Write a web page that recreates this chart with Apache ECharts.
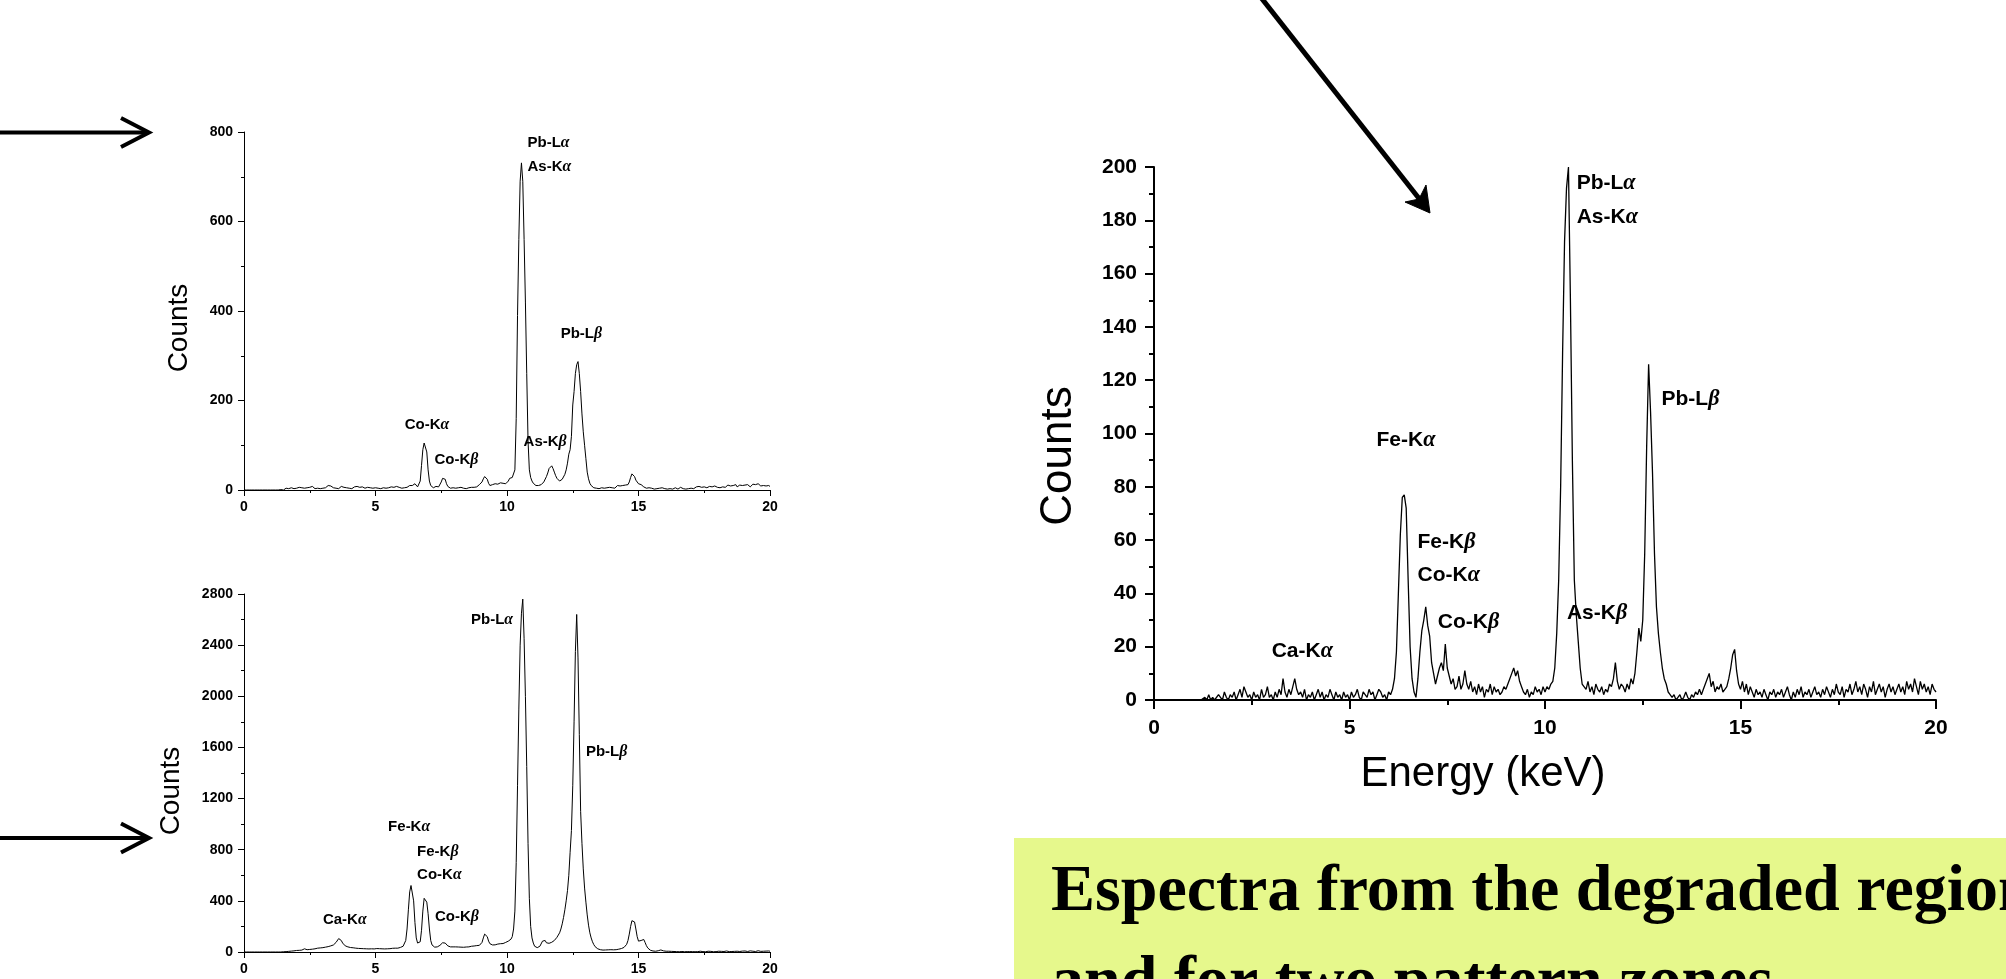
<!DOCTYPE html>
<html>
<head>
<meta charset="utf-8">
<script src="https://cdn.jsdelivr.net/npm/echarts/dist/echarts.min.js"></script>
<style>
html,body{margin:0;padding:0;background:#fff;}
#chart{width:2006px;height:979px;}
</style>
</head>
<body>
<div id="chart"></div>
<script>
// ---- DATA (counts per 0.05 keV channel, 0.00 … 20.00 keV) ----
const energyStep = 0.05;

// degraded region (right panel)
const countsDegraded = [
 0,0,0,0,0,0,0,0,0,0,0,0,0,0,0,0,0,0,0,0,
 0,0,0,0,0,0,1,0,2,0,1,0,0,2,1,0,3,1,0,2,
 1,3,0,2,4,1,5,3,1,2,0,3,1,2,0,4,1,2,5,1,
 2,0,3,1,4,2,8,3,1,4,2,5,8,4,2,3,1,4,0,2,
 1,3,0,2,4,1,3,0,2,1,4,2,0,3,1,2,0,3,1,2,
 0,3,1,2,4,1,0,3,2,1,4,2,3,0,2,4,3,1,2,0,
 3,2,4,8,18,40,62,76,77,72,45,20,8,3,1,8,18,26,30,35,
 28,24,14,10,6,9,12,14,11,21,12,9,6,8,4,5,9,4,6,11,
 6,4,7,3,5,2,6,3,5,1,4,3,6,2,5,3,4,2,3,5,
 4,6,8,10,12,9,11,7,5,3,2,4,1,3,2,5,3,4,2,5,
 3,5,4,6,7,12,25,45,80,130,172,192,200,150,90,45,32,22,12,6,
 6,4,7,3,5,2,6,4,3,5,2,4,3,6,5,8,14,7,4,6,
 5,3,6,4,8,6,10,18,27,22,30,55,95,126,108,85,55,35,25,18,
 12,8,6,3,2,1,2,0,1,2,0,1,3,1,0,2,1,3,2,4,
 2,4,6,8,10,5,7,3,5,4,6,3,4,5,8,12,17,19,11,6,
 4,7,3,6,2,5,3,1,4,2,3,1,4,2,0,3,2,4,1,3,
 2,4,1,3,5,2,0,3,1,4,2,5,1,3,2,4,1,3,5,2,
 3,1,4,2,5,3,1,4,2,6,3,2,5,1,4,3,6,2,4,7,
 3,5,2,6,4,1,5,3,7,2,4,6,3,5,1,4,6,3,5,2,
 4,6,3,5,2,7,4,6,3,8,5,2,7,4,6,3,5,2,6,4,
 3
];

// pattern zone 1 (top-left panel)
const countsZone1 = [
 0,0,0,0,0,0,0,0,0,0,0,0,0,0,0,0,0,0,0,0,
 0,0,0,0,0,0,0,2,1,3,0,2,4,1,3,2,5,1,3,2,
 4,2,6,3,5,8,4,7,5,3,6,4,8,5,3,7,4,6,3,5,
 4,6,5,8,10,13,9,6,5,7,4,6,3,5,8,4,6,3,5,7,
 4,6,3,5,7,4,8,5,6,3,7,5,4,8,6,3,5,7,4,6,
 5,8,4,6,3,7,5,8,4,6,5,3,7,4,6,5,8,4,6,5,
 4,6,5,4,6,8,10,12,10,8,14,10,7,9,20,55,90,105,108,85,
 45,20,10,7,5,6,8,5,7,10,18,26,30,24,14,8,6,4,7,5,
 6,4,7,5,3,6,8,4,5,3,7,5,4,6,8,6,9,7,10,12,
 14,18,25,30,28,24,15,10,8,12,9,14,10,13,11,16,12,15,18,14,
 16,20,26,24,28,30,45,160,390,560,690,731,690,560,420,260,110,45,28,20,
 15,12,10,12,10,14,12,15,18,22,30,38,48,52,54,48,40,32,26,22,
 20,22,24,28,35,45,60,80,90,120,190,220,260,280,287,260,220,170,130,100,
 70,40,25,15,10,8,5,6,4,5,3,4,5,3,4,2,5,3,6,4,
 5,7,4,8,10,6,9,7,10,8,11,9,12,18,28,36,40,30,22,18,
 14,16,12,10,7,5,4,3,5,2,4,3,2,4,3,2,4,3,5,2,
 3,4,2,5,3,4,2,3,5,4,2,3,6,4,3,5,2,4,3,5,
 4,6,3,5,7,4,8,5,6,4,7,9,5,6,8,5,7,6,9,7,
 6,8,5,9,7,10,6,8,11,7,9,6,10,8,12,7,9,11,8,10,
 9,11,8,12,10,7,11,13,9,12,10,14,11,9,13,10,12,9,11,10,
 8
];

// pattern zone 2 (bottom-left panel)
const countsZone2 = [
 0,0,0,0,0,0,0,0,0,0,0,0,0,0,0,0,0,0,0,0,
 0,0,0,0,0,0,0,0,0,0,2,4,3,6,5,8,7,10,9,12,
 12,14,13,16,15,18,25,20,18,22,20,24,22,26,25,28,30,28,32,35,
 34,36,38,40,42,45,48,50,55,62,75,90,105,108,90,70,55,48,42,40,
 38,35,36,33,34,30,32,28,30,27,29,26,28,25,27,24,26,25,27,24,
 25,27,24,26,23,25,27,24,26,25,28,26,27,29,28,30,32,30,34,36,
 40,45,60,90,180,330,470,520,510,400,230,110,70,60,80,170,320,420,432,390,
 300,180,90,55,40,38,36,40,45,52,62,72,76,70,58,48,42,40,38,40,
 38,40,36,39,42,38,40,37,41,39,43,40,42,45,43,47,45,50,48,52,
 58,75,110,140,145,120,85,65,58,55,58,56,60,62,60,65,68,66,72,75,
 80,85,90,100,120,180,320,700,1300,1900,2400,2650,2760,2450,2000,1450,850,420,200,110,
 70,45,35,34,38,45,60,85,100,90,72,66,68,72,76,82,90,100,115,130,
 150,180,220,270,330,400,480,600,780,950,1300,1800,2350,2640,2300,1700,1100,850,650,500,
 390,290,210,150,110,80,58,42,32,25,20,18,16,15,17,16,15,17,16,18,
 18,17,19,18,20,22,24,27,30,36,45,60,90,140,200,245,258,235,180,120,
 85,80,90,100,98,75,50,32,20,14,10,8,7,6,8,10,14,16,14,9,
 7,6,5,6,4,5,3,4,5,3,4,2,3,4,3,2,4,3,2,3,
 2,3,4,2,5,3,2,6,4,3,5,2,4,6,3,5,4,2,5,3,
 4,6,3,5,7,4,6,8,5,3,6,4,7,5,3,6,8,4,5,7,
 5,8,6,4,7,9,5,6,8,4,7,10,6,5,8,6,9,7,5,8,
 6
];

// axis ranges / ticks
const xTicks = [0, 5, 10, 15, 20];
const yMaxZone1 = 800, yStepZone1 = 200;
const yMaxZone2 = 2800, yStepZone2 = 400;
const yMaxDegraded = 200, yStepDegraded = 20;

// peak labels: [energy keV, counts, text, greek]
const labelsZone1 = [
 [10.78, 775, 'Pb-L', 'α'], [10.78, 722, 'As-K', 'α'], [12.04, 349, 'Pb-L', 'β'],
 [6.11, 145, 'Co-K', 'α'], [7.24, 67, 'Co-K', 'β'], [10.63, 107, 'As-K', 'β']
];
const labelsZone2 = [
 [8.63, 2597, 'Pb-L', 'α'], [13.0, 1564, 'Pb-L', 'β'], [5.48, 978, 'Fe-K', 'α'],
 [6.58, 782, 'Fe-K', 'β'], [6.58, 602, 'Co-K', 'α'], [7.26, 274, 'Co-K', 'β'],
 [3.0, 250, 'Ca-K', 'α']
];
const labelsDegraded = [
 [10.81, 194, 'Pb-L', 'α'], [10.81, 181, 'As-K', 'α'], [12.98, 113, 'Pb-L', 'β'],
 [5.69, 97.4, 'Fe-K', 'α'], [6.74, 59.3, 'Fe-K', 'β'], [6.74, 46.9, 'Co-K', 'α'],
 [7.26, 29.3, 'Co-K', 'β'], [10.56, 32.5, 'As-K', 'β'], [3.01, 18.4, 'Ca-K', 'α']
];

const energies = countsDegraded.map((_, i) => Math.round(i * energyStep * 100) / 100);
const pairs = arr => arr.map((c, i) => [energies[i], c]);

const SANS = '"Liberation Sans", Arial, Helvetica, sans-serif';
const SERIF = '"Liberation Serif", "Times New Roman", serif';

function xAxisFor(gi, fs, lw, tickLen, margin) {
  return {
    type: 'value', gridIndex: gi, min: 0, max: 20, interval: 5,
    axisLine: {show: true, onZero: false, lineStyle: {color: '#000', width: lw}},
    axisTick: {show: true, inside: false, length: tickLen, lineStyle: {color: '#000', width: lw}},
    minorTick: {show: true, splitNumber: 2, length: Math.round(tickLen * 0.55), lineStyle: {color: '#000', width: lw}},
    axisLabel: {show: true, margin: margin, color: '#000', fontFamily: SANS, fontWeight: 'bold', fontSize: fs,
      formatter: v => xTicks.indexOf(v) >= 0 ? String(v) : ''},
    splitLine: {show: false}, minorSplitLine: {show: false}
  };
}
function yAxisFor(gi, max, step, fs, lw, tickLen, margin) {
  return {
    type: 'value', gridIndex: gi, min: 0, max: max, interval: step,
    axisLine: {show: true, onZero: false, lineStyle: {color: '#000', width: lw}},
    axisTick: {show: true, inside: false, length: tickLen, lineStyle: {color: '#000', width: lw}},
    minorTick: {show: true, splitNumber: 2, length: Math.round(tickLen * 0.55), lineStyle: {color: '#000', width: lw}},
    axisLabel: {show: true, margin: margin, color: '#000', fontFamily: SANS, fontWeight: 'bold', fontSize: fs,
      formatter: v => String(v)},
    splitLine: {show: false}, minorSplitLine: {show: false}
  };
}
function markLabels(list, fs) {
  return {
    symbol: 'circle', symbolSize: 0, silent: true, animation: false,
    label: {
      show: true, position: 'right', distance: 0,
      formatter: p => '{t|' + p.data.txt + '}{g|' + p.data.greek + '}',
      rich: {
        t: {fontFamily: SANS, fontWeight: 'bold', fontSize: fs, color: '#000'},
        g: {fontFamily: SERIF, fontStyle: 'italic', fontWeight: 'bold', fontSize: fs * 1.05, color: '#000'}
      }
    },
    data: list.map(a => ({coord: [a[0], a[1]], txt: a[2], greek: a[3]}))
  };
}
function lineSeries(idx, data, lw, labels, fs) {
  return {
    type: 'line', xAxisIndex: idx, yAxisIndex: idx, data: pairs(data),
    showSymbol: false, symbol: 'none', smooth: false, animation: false,
    lineStyle: {color: '#000', width: lw}, z: 3,
    markPoint: markLabels(labels, fs)
  };
}

const chart = echarts.init(document.getElementById('chart'), null, {renderer: 'canvas'});
chart.setOption({
  backgroundColor: '#ffffff',
  animation: false,
  grid: [
    {left: 244, top: 132, width: 526, height: 358, containLabel: false},
    {left: 244, top: 594, width: 526, height: 358, containLabel: false},
    {left: 1154, top: 167, width: 782, height: 533, containLabel: false}
  ],
  xAxis: [
    xAxisFor(0, 14, 1, 6, 10),
    xAxisFor(1, 14, 1, 6, 10),
    xAxisFor(2, 21, 2, 9, 18)
  ],
  yAxis: [
    yAxisFor(0, yMaxZone1, yStepZone1, 14, 1, 6, 11),
    yAxisFor(1, yMaxZone2, yStepZone2, 14, 1, 6, 11),
    yAxisFor(2, yMaxDegraded, yStepDegraded, 21, 2, 9, 17)
  ],
  series: [
    lineSeries(0, countsZone1, 1, labelsZone1, 15),
    lineSeries(1, countsZone2, 1, labelsZone2, 15),
    lineSeries(2, countsDegraded, 1.3, labelsDegraded, 21)
  ],
  graphic: [
    // axis titles
    {type: 'text', x: 179, y: 328, rotation: Math.PI / 2,
      style: {text: 'Counts', font: '28px ' + SANS, fill: '#000', align: 'center', verticalAlign: 'middle'}},
    {type: 'text', x: 171, y: 791, rotation: Math.PI / 2,
      style: {text: 'Counts', font: '28px ' + SANS, fill: '#000', align: 'center', verticalAlign: 'middle'}},
    {type: 'text', x: 1059, y: 456, rotation: Math.PI / 2,
      style: {text: 'Counts', font: '44px ' + SANS, fill: '#000', align: 'center', verticalAlign: 'middle'}},
    {type: 'text', x: 1483, y: 774,
      style: {text: 'Energy (keV)', font: '42px ' + SANS, fill: '#000', align: 'center', verticalAlign: 'middle'}},
    // arrows
    {type: 'line', shape: {x1: -5, y1: 132.5, x2: 147, y2: 132.5}, style: {stroke: '#000', lineWidth: 4}},
    {type: 'polyline', shape: {points: [[121, 118], [149, 132.5], [121, 147]]}, style: {stroke: '#000', lineWidth: 4, fill: null, lineJoin: 'miter'}},
    {type: 'line', shape: {x1: -5, y1: 838, x2: 147, y2: 838}, style: {stroke: '#000', lineWidth: 4}},
    {type: 'polyline', shape: {points: [[121, 823.5], [149, 838], [121, 852.5]]}, style: {stroke: '#000', lineWidth: 4, fill: null, lineJoin: 'miter'}},
    {type: 'line', shape: {x1: 1259, y1: -5, x2: 1421, y2: 201}, style: {stroke: '#000', lineWidth: 5}},
    {type: 'polygon', shape: {points: [[1430, 213], [1405, 202], [1419, 199], [1426, 185]]}, style: {fill: '#000', stroke: '#000', lineWidth: 1}},
    // caption box
    {type: 'rect', shape: {x: 1014, y: 838, width: 1000, height: 150}, style: {fill: '#e6f88c'}, z: -1},
    {type: 'text', x: 1051, y: 893,
      style: {text: 'Espectra from the degraded region', font: 'bold 66px ' + SERIF, fill: '#000', align: 'left', verticalAlign: 'middle'}},
    {type: 'text', x: 1051, y: 984,
      style: {text: 'and for two pattern zones', font: 'bold 66px ' + SERIF, fill: '#000', align: 'left', verticalAlign: 'middle'}}
  ]
});
</script>
</body>
</html>
